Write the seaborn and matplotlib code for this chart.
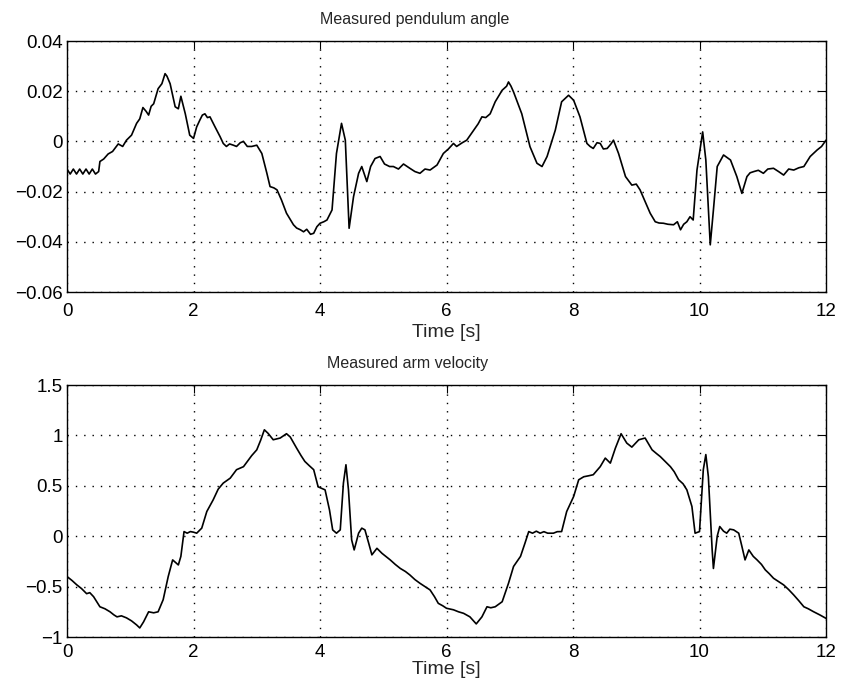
import matplotlib
matplotlib.use("Agg")
import matplotlib.pyplot as plt
import seaborn as sns
import pandas as pd

# ---- Data ----
angle_t = [0.00, 0.05, 0.10, 0.15, 0.20, 0.25, 0.30, 0.35, 0.40, 0.45, 0.50, 0.52, 0.58, 0.65, 0.72, 0.81, 0.88, 0.94, 1.02,
           1.10, 1.15, 1.20, 1.25, 1.29, 1.33, 1.37, 1.44, 1.50, 1.55, 1.58, 1.63, 1.71, 1.76, 1.80, 1.87, 1.94, 2.00,
           2.05, 2.10, 2.14, 2.18, 2.22, 2.26, 2.34, 2.42, 2.47, 2.52, 2.57, 2.63, 2.68, 2.74, 2.79, 2.85, 2.92, 3.00,
           3.08, 3.16, 3.21, 3.27, 3.32, 3.39, 3.47, 3.58, 3.63, 3.69, 3.74, 3.79, 3.85, 3.90, 3.95, 4.00, 4.06, 4.11,
           4.19, 4.26, 4.34, 4.40, 4.46, 4.53, 4.61, 4.66, 4.74, 4.80, 4.87, 4.95, 5.02, 5.10, 5.16, 5.24, 5.32, 5.42,
           5.50, 5.58, 5.66, 5.74, 5.85, 5.95, 6.03, 6.11, 6.16, 6.25, 6.32, 6.43, 6.50, 6.56, 6.62, 6.69, 6.77, 6.88,
           6.95, 6.98, 7.02, 7.06, 7.19, 7.32, 7.43, 7.51, 7.59, 7.72, 7.82, 7.93, 8.01, 8.11, 8.22, 8.27, 8.32, 8.38,
           8.43, 8.48, 8.54, 8.60, 8.64, 8.72, 8.83, 8.93, 9.00, 9.06, 9.14, 9.22, 9.30, 9.36, 9.43, 9.50, 9.59, 9.65,
           9.70, 9.75, 9.80, 9.85, 9.90, 9.96, 10.05, 10.10, 10.17, 10.22, 10.28, 10.38, 10.49, 10.59, 10.67, 10.75,
           10.80, 10.86, 10.93, 11.01, 11.08, 11.17, 11.25, 11.33, 11.41, 11.49, 11.57, 11.65, 11.75, 11.86, 11.93, 12.00]
angle_v = [-0.011, -0.013, -0.011, -0.013, -0.011, -0.013, -0.011, -0.013, -0.011, -0.013, -0.012, -0.008, -0.007, -0.005, -0.004, -0.001, -0.002, 0.0005, 0.0025,
           0.0072, 0.009, 0.0135, 0.012, 0.0105, 0.014, 0.015, 0.021, 0.023, 0.027, 0.026, 0.023, 0.0138, 0.013, 0.018, 0.011, 0.0025, 0.0012,
           0.0058, 0.0085, 0.0105, 0.011, 0.0095, 0.0098, 0.0058, 0.0019, -0.0008, -0.002, -0.001, -0.0015, -0.002, -0.0005, 0.0, -0.002, -0.002, -0.0015,
           -0.0048, -0.0127, -0.018, -0.0185, -0.0193, -0.0233, -0.0286, -0.0332, -0.0345, -0.0352, -0.036, -0.035, -0.037, -0.0366, -0.034, -0.0326, -0.032, -0.0313,
           -0.0273, -0.0048, 0.0072, 0.0005, -0.0346, -0.022, -0.0127, -0.010, -0.016, -0.010, -0.0068, -0.006, -0.009, -0.010, -0.010, -0.011, -0.009, -0.0107,
           -0.012, -0.0127, -0.011, -0.0114, -0.0094, -0.0048, -0.003, -0.0008, -0.002, -0.0005, 0.0005, 0.0045, 0.007, 0.0098, 0.0095, 0.011, 0.0158, 0.0204,
           0.022, 0.0237, 0.022, 0.0197, 0.011, -0.0021, -0.0087, -0.010, -0.006, 0.0045, 0.0158, 0.0184, 0.0164, 0.0098, -0.0008, -0.002, -0.0028, -0.0005,
           -0.0008, -0.003, -0.0028, -0.001, 0.0005, -0.0048, -0.014, -0.0174, -0.017, -0.0193, -0.024, -0.0286, -0.032, -0.0325, -0.0326, -0.033, -0.0332, -0.032,
           -0.0352, -0.033, -0.032, -0.030, -0.0313, -0.0114, 0.0038, -0.0074, -0.0412, -0.0273, -0.010, -0.0054, -0.0074, -0.014, -0.0207, -0.014,
           -0.0125, -0.012, -0.0115, -0.0127, -0.011, -0.0107, -0.012, -0.0134, -0.011, -0.0114, -0.0105, -0.010, -0.006, -0.0034, -0.002, 0.0005]

vel_t = [0.00, 0.08, 0.15, 0.23, 0.31, 0.36, 0.42, 0.52, 0.60, 0.68, 0.74, 0.79, 0.86, 0.94, 1.02, 1.10, 1.15, 1.21, 1.29, 1.37,
         1.44, 1.52, 1.60, 1.67, 1.76, 1.80, 1.85, 1.90, 1.95, 2.00, 2.05, 2.13, 2.21, 2.31, 2.39, 2.47, 2.58, 2.68, 2.79,
         2.86, 2.92, 3.00, 3.06, 3.12, 3.18, 3.26, 3.37, 3.47, 3.53, 3.63, 3.70, 3.76, 3.83, 3.90, 3.97, 4.08, 4.15, 4.20,
         4.26, 4.32, 4.37, 4.41, 4.45, 4.50, 4.54, 4.61, 4.66, 4.71, 4.77, 4.82, 4.90, 4.98, 5.04, 5.11, 5.19, 5.27, 5.35,
         5.42, 5.50, 5.58, 5.66, 5.74, 5.81, 5.87, 5.94, 6.00, 6.11, 6.19, 6.27, 6.37, 6.47, 6.56, 6.64, 6.70, 6.77, 6.88,
         6.98, 7.06, 7.17, 7.24, 7.30, 7.36, 7.42, 7.48, 7.54, 7.60, 7.69, 7.75, 7.82, 7.90, 8.01, 8.09, 8.17, 8.25, 8.32,
         8.43, 8.51, 8.59, 8.67, 8.76, 8.85, 8.93, 9.04, 9.14, 9.25, 9.32, 9.38, 9.46, 9.54, 9.60, 9.67, 9.74, 9.80, 9.88,
         9.93, 10.00, 10.06, 10.10, 10.14, 10.20, 10.22, 10.28, 10.32, 10.38, 10.43, 10.48, 10.54, 10.62, 10.67, 10.72, 10.78,
         10.85, 10.91, 10.98, 11.04, 11.10, 11.17, 11.25, 11.33, 11.41, 11.49, 11.57, 11.65, 11.72, 11.80, 11.90, 12.00]
vel_v = [-0.40, -0.44, -0.48, -0.52, -0.57, -0.56, -0.60, -0.70, -0.72, -0.75, -0.78, -0.80, -0.79, -0.81, -0.84, -0.88, -0.91, -0.85, -0.75, -0.76,
         -0.75, -0.63, -0.40, -0.235, -0.285, -0.20, 0.046, 0.03, 0.046, 0.04, 0.03, 0.08, 0.245, 0.36, 0.467, 0.527, 0.576, 0.66, 0.69,
         0.75, 0.80, 0.857, 0.95, 1.056, 1.02, 0.957, 0.974, 1.017, 0.984, 0.874, 0.80, 0.742, 0.70, 0.66, 0.49, 0.46, 0.26, 0.063,
         0.03, 0.063, 0.527, 0.709, 0.46, -0.036, -0.136, 0.03, 0.08, 0.063, -0.07, -0.185, -0.12, -0.17, -0.20, -0.235, -0.28, -0.32, -0.35,
         -0.384, -0.43, -0.467, -0.50, -0.533, -0.60, -0.666, -0.69, -0.715, -0.73, -0.75, -0.765, -0.80, -0.87, -0.80, -0.70, -0.71, -0.70, -0.65,
         -0.467, -0.30, -0.20, -0.07, 0.046, 0.03, 0.05, 0.03, 0.045, 0.03, 0.03, 0.045, 0.046, 0.245, 0.394, 0.56, 0.59, 0.60, 0.61,
         0.69, 0.775, 0.725, 0.874, 1.017, 0.924, 0.884, 0.957, 0.974, 0.857, 0.82, 0.79, 0.74, 0.69, 0.64, 0.56, 0.52, 0.46, 0.295,
         0.03, 0.046, 0.66, 0.81, 0.59, -0.136, -0.32, 0.0, 0.096, 0.05, 0.03, 0.07, 0.063, 0.03, -0.10, -0.235, -0.136,
         -0.20, -0.235, -0.28, -0.334, -0.37, -0.417, -0.45, -0.483, -0.53, -0.583, -0.64, -0.70, -0.72, -0.748, -0.78, -0.815]

titles = ["Measured pendulum angle", "Measured arm velocity"]
xlabel = "Time [s]"
xticks = [0, 2, 4, 6, 8, 10, 12]
angle_yticks = [-0.06, -0.04, -0.02, 0, 0.02, 0.04]
angle_yticklabels = ["\u22120.06", "\u22120.04", "\u22120.02", "0", "0.02", "0.04"]
vel_yticks = [-1, -0.5, 0, 0.5, 1, 1.5]
vel_yticklabels = ["\u22121", "\u22120.5", "0", "0.5", "1", "1.5"]

sns.set_style("white")
plt.rcParams['font.family'] = ['Liberation Sans', 'DejaVu Sans']

fig = plt.figure(figsize=(8.42, 6.93), dpi=100)
ax1 = fig.add_axes([0.0796, 0.5786, 0.9014, 0.3622])
ax2 = fig.add_axes([0.0796, 0.0808, 0.9014, 0.3636])

df1 = pd.DataFrame({"t": angle_t, "v": angle_v})
df2 = pd.DataFrame({"t": vel_t, "v": vel_v})

for ax, df, title, yt, ytl, ylim, tx, xpad, lpad in [
        (ax1, df1, titles[0], angle_yticks, angle_yticklabels, (-0.06, 0.04), 0.458, 8, 3),
        (ax2, df2, titles[1], vel_yticks, vel_yticklabels, (-1, 1.5), 0.449, 5, 0)]:
    sns.lineplot(data=df, x="t", y="v", ax=ax, color="black", linewidth=1.2,
                 estimator=None, sort=False)
    ax.set_xlim(0, 12)
    ax.set_ylim(*ylim)
    ax.set_xticks(xticks)
    ax.set_xticklabels([str(x) for x in xticks])
    ax.set_yticks(yt)
    ax.set_yticklabels(ytl)
    ax.set_title(title, fontsize=11.5, pad=12, x=tx)
    ax.set_xlabel(xlabel, fontsize=14, labelpad=lpad)
    ax.set_ylabel("")
    ax.grid(True, color="black", linestyle=(0, (1, 5)), linewidth=1.0)
    ax.tick_params(axis="both", direction="in", length=6, width=0.8, top=True, right=True,
                   labelsize=13.5, colors="black")
    ax.tick_params(axis="x", pad=xpad)
    ax.tick_params(axis="y", pad=3)
    for s in ax.spines.values():
        s.set_color("black")
        s.set_linewidth(1.0)
        s.set_visible(True)

fig.savefig("out.png", dpi=100, facecolor="white")
